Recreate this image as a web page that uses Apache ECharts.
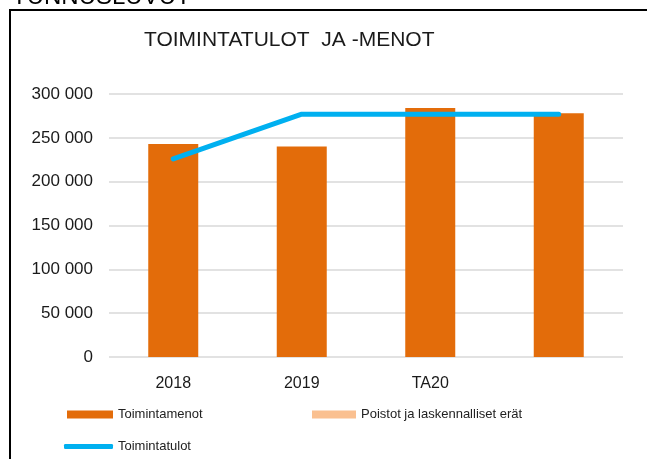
<!DOCTYPE html>
<html>
<head>
<meta charset="utf-8">
<script src="https://cdn.jsdelivr.net/npm/echarts@6/dist/echarts.min.js"></script>
<style>
  html, body { margin: 0; padding: 0; background: #fff; }
  #chart { width: 647px; height: 459px; }
</style>
</head>
<body>
<div id="chart"></div>
<script>
  // kategoriat ja arvot (luettu kuvasta)
  const categories = ['2018', '2019', 'TA20', ''];
  const toimintamenot = [243000, 240000, 284000, 278000];
  const poistot = [null, null, null, null];
  const toimintatulot = [226000, 277000, 277000, 277000];
  const yTicks = [0, 50000, 100000, 150000, 200000, 250000, 300000];

  const font = '"Liberation Sans", Arial, sans-serif';

  const chart = echarts.init(document.getElementById('chart'));

  const option = {
    animation: false,
    backgroundColor: '#fff',
    textStyle: { fontFamily: font },
    title: {
      text: 'TOIMINTATULOT  JA -MENOT',
      left: 139,
      top: 25,
      textStyle: { fontFamily: font, fontSize: 21, fontWeight: 'normal', color: '#1a1a1a' }
    },
    graphic: [
      {
        type: 'text',
        left: 12,
        top: -15,
        style: { text: 'TUNNUSLUVUT', font: '24px "Liberation Sans", Arial, sans-serif', fill: '#000' }
      },
      {
        type: 'polyline',
        shape: { points: [[10, 459], [10, 10], [647, 10]] },
        style: { stroke: '#000', lineWidth: 2, fill: null }
      }
    ],
    legend: [
      {
        data: ['Toimintamenot'],
        left: 62,
        top: 403,
        icon: 'rect',
        itemWidth: 46,
        itemHeight: 8,
        textStyle: { fontFamily: font, fontSize: 13, color: '#222' }
      },
      {
        data: ['Poistot ja laskennalliset erät'],
        left: 307,
        top: 403,
        icon: 'rect',
        itemWidth: 44,
        itemHeight: 8,
        textStyle: { fontFamily: font, fontSize: 13, color: '#222' }
      },
      {
        data: ['Toimintatulot'],
        left: 59,
        top: 435,
        icon: 'roundRect',
        itemWidth: 49,
        itemHeight: 5,
        textStyle: { fontFamily: font, fontSize: 13, color: '#222' }
      }
    ],
    grid: {
      left: 109,
      right: 24,
      top: 94,
      bottom: 102,
      containLabel: false
    },
    xAxis: {
      type: 'category',
      data: categories,
      axisLine: { show: false },
      axisTick: { show: false },
      axisLabel: { fontFamily: font, fontSize: 16, color: '#1a1a1a', margin: 19 }
    },
    yAxis: {
      type: 'value',
      min: yTicks[0],
      max: yTicks[yTicks.length - 1],
      interval: 50000,
      axisLine: { show: false },
      axisTick: { show: false },
      axisLabel: {
        fontFamily: font,
        fontSize: 17,
        color: '#1a1a1a',
        margin: 16,
        formatter: v => String(v).replace(/\B(?=(\d{3})+(?!\d))/g, ' ')
      },
      splitLine: { show: true, lineStyle: { color: '#d9d9d9', width: 1.5 } }
    },
    series: [
      {
        name: 'Toimintamenot',
        type: 'bar',
        stack: 'menot',
        data: toimintamenot,
        barWidth: 50,
        itemStyle: { color: '#E36C0A' }
      },
      {
        name: 'Poistot ja laskennalliset erät',
        type: 'bar',
        stack: 'menot',
        data: poistot,
        barWidth: 50,
        itemStyle: { color: '#FAC090' }
      },
      {
        name: 'Toimintatulot',
        type: 'line',
        data: toimintatulot,
        symbol: 'none',
        lineStyle: { color: '#00B0F0', width: 5, cap: 'round', join: 'round' },
        itemStyle: { color: '#00B0F0' }
      }
    ]
  };

  chart.setOption(option);

  window.addEventListener('resize', () => {
    chart.resize();
  });
</script>
</body>
</html>
